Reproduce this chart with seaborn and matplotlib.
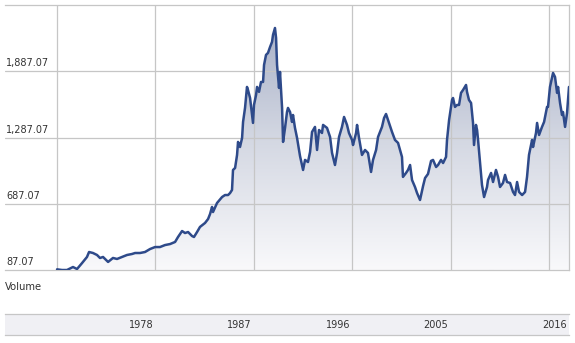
import numpy as np
import pandas as pd
import matplotlib
matplotlib.use("Agg")
import matplotlib.pyplot as plt
import seaborn as sns
from matplotlib.patches import Polygon
from matplotlib.colors import LinearSegmentedColormap

# valores (ano decimal, nivel do indice)
anos = [
    1969.00, 1969.46, 1969.91, 1970.46, 1970.83, 1971.29, 1971.74, 1971.93, 1972.29, 1972.66,
    1972.93, 1973.21, 1973.67, 1974.12, 1974.49, 1974.95, 1975.40, 1975.86, 1976.14, 1976.59,
    1977.05, 1977.51, 1977.97, 1978.42, 1978.88, 1979.34, 1979.80, 1980.07, 1980.44, 1980.71,
    1980.99, 1981.35, 1981.53, 1981.81, 1982.08, 1982.54, 1982.82, 1983.00, 1983.18, 1983.27,
    1983.64, 1984.10, 1984.37, 1984.65, 1984.83, 1985.01, 1985.10, 1985.29, 1985.47, 1985.56,
    1985.74, 1985.93, 1986.02, 1986.20, 1986.38, 1986.47, 1986.66, 1986.84, 1986.93, 1987.02,
    1987.21, 1987.30, 1987.48, 1987.66, 1987.85, 1987.94, 1988.12, 1988.30, 1988.49, 1988.67,
    1988.76, 1988.94, 1989.04, 1989.13, 1989.31, 1989.40, 1989.59, 1989.68, 1989.86, 1990.04,
    1990.13, 1990.32, 1990.50, 1990.59, 1990.77, 1990.96, 1991.23, 1991.51, 1991.69, 1991.96,
    1992.15, 1992.33, 1992.60, 1992.79, 1992.97, 1993.24, 1993.34, 1993.70, 1993.98, 1994.16,
    1994.43, 1994.62, 1994.80, 1995.07, 1995.26, 1995.53, 1995.71, 1995.99, 1996.08, 1996.36,
    1996.45, 1996.63, 1996.90, 1997.18, 1997.45, 1997.73, 1997.91, 1998.19, 1998.37, 1998.73,
    1998.92, 1999.10, 1999.28, 1999.65, 1999.92, 2000.20, 2000.56, 2000.65, 2000.93, 2001.11,
    2001.30, 2001.48, 2001.75, 2001.94, 2002.21, 2002.49, 2002.67, 2002.94, 2003.22, 2003.40,
    2003.68, 2003.86, 2004.13, 2004.32, 2004.59, 2004.68, 2004.87, 2005.14, 2005.23, 2005.41,
    2005.60, 2005.78, 2005.96, 2006.15, 2006.42, 2006.51, 2006.69, 2006.88, 2007.06, 2007.15,
    2007.33, 2007.43, 2007.52, 2007.70, 2007.88, 2008.07, 2008.34, 2008.43, 2008.71, 2008.89,
    2009.16, 2009.35, 2009.53, 2009.80, 2009.99, 2010.17, 2010.45, 2010.72, 2010.90, 2011.09,
    2011.27, 2011.55, 2011.82, 2012.00, 2012.18, 2012.46, 2012.55, 2012.82, 2012.92, 2013.10,
    2013.37, 2013.56, 2013.83, 2013.92, 2014.10, 2014.38, 2014.56, 2014.75, 2014.84, 2015.02,
    2015.20, 2015.29, 2015.48, 2015.66, 2015.84,
]
valores = [
    93, 87, 87, 114, 96, 150, 205, 250, 241, 223,
    196, 205, 160, 196, 187, 205, 223, 232, 241, 241,
    250, 277, 295, 295, 313, 322, 341, 386, 440, 422,
    431, 395, 386, 431, 477, 513, 549, 594, 658, 612,
    694, 748, 766, 766, 784, 812, 993, 1011, 1129, 1247,
    1201, 1283, 1428, 1555, 1745, 1718, 1645, 1491, 1419, 1582,
    1673, 1745, 1700, 1790, 1790, 1944, 2035, 2053, 2107, 2153,
    2216, 2279, 2189, 1944, 1736, 1881, 1555, 1247, 1374, 1518,
    1555, 1518, 1428, 1491, 1374, 1283, 1120, 993, 1084, 1065,
    1156, 1337, 1383, 1174, 1355, 1328, 1401, 1374, 1292, 1147,
    1038, 1147, 1292, 1383, 1473, 1401, 1328, 1265, 1219, 1328,
    1401, 1283, 1129, 1174, 1147, 975, 1084, 1174, 1292, 1383,
    1464, 1500, 1446, 1337, 1265, 1238, 1111, 930, 966, 993,
    1038, 902, 839, 784, 721, 848, 920, 957, 1075, 1084,
    1020, 1038, 1084, 1056, 1111, 1265, 1446, 1627, 1645, 1564,
    1582, 1582, 1691, 1718, 1763, 1700, 1627, 1600, 1419, 1219,
    1401, 1355, 1265, 1056, 857, 748, 839, 902, 966, 884,
    993, 930, 839, 875, 948, 884, 875, 794, 766, 884,
    794, 766, 794, 930, 1129, 1265, 1201, 1328, 1419, 1310,
    1383, 1428, 1564, 1564, 1745, 1872, 1836, 1691, 1745, 1600,
    1491, 1518, 1383, 1509, 1745,
]

niveis_y = [87.07, 687.07, 1287.07, 1887.07]
rotulos_y = ["87.07", "687.07", "1,287.07", "1,887.07"]
anos_grade = [1969, 1978, 1987, 1996, 2005, 2014]
rotulos_x = ["1978", "1987", "1996", "2005", "2016"]

df = pd.DataFrame({"ano": anos, "valor": valores})

sns.set_style("white")
cor_linha = "#2e4a8a"
cor_grade = "#c6c6c6"
cor_texto = "#333333"

W, H = 575, 343
fig = plt.figure(figsize=(W / 100, H / 100), dpi=100)
ax = fig.add_axes([5 / W, 1 - 270 / H, 564 / W, 265 / H])

x_min, x_max = 1964.24, 2015.84
y_min, y_max = 87.07, 2487.07

# grade por cima do preenchimento
for n in niveis_y[1:]:
    ax.axhline(n, color=cor_grade, lw=0.9, zorder=2)
for a in anos_grade:
    ax.axvline(a, color=cor_grade, lw=0.9, zorder=2)

# preenchimento em degrade recortado pela area sob a linha
degrade = np.linspace(0, 1, 256).reshape(-1, 1)
cmap = LinearSegmentedColormap.from_list("deg", ["#f9f9fb", "#d3d7e2", "#a2abc4"])
im = ax.imshow(degrade, extent=[x_min, x_max, y_min, y_max], origin="lower",
               cmap=cmap, aspect="auto", zorder=1)
verts = np.column_stack([[anos[0]] + anos + [anos[-1]], [y_min] + valores + [y_min]])
area = Polygon(verts, closed=True, facecolor="none", edgecolor="none", transform=ax.transData)
ax.add_patch(area)
im.set_clip_path(area)

sns.lineplot(data=df, x="ano", y="valor", ax=ax, color=cor_linha, linewidth=1.8,
             estimator=None, sort=False, zorder=3)

ax.set_xlim(x_min, x_max)
ax.set_ylim(y_min, y_max)
ax.set_xticks([])
ax.set_yticks([])
ax.set_xlabel("")
ax.set_ylabel("")
for lado in ["top", "right", "bottom"]:
    ax.spines[lado].set_color(cor_grade)
    ax.spines[lado].set_linewidth(0.9)
ax.spines["left"].set_visible(False)

# rotulos do eixo y dentro do grafico
for n, r in zip(niveis_y, rotulos_y):
    ax.annotate(r, xy=(0, n), xycoords=ax.get_yaxis_transform(), xytext=(1, 2),
                textcoords="offset points", ha="left", va="bottom",
                fontsize=7, color=cor_texto)

fig.text(5 / W, 1 - 287 / H, "Volume", ha="left", va="center", fontsize=7.2, color=cor_texto)

# faixa inferior com os anos
axb = fig.add_axes([5 / W, 1 - 335 / H, 564 / W, 21 / H])
axb.set_facecolor("#f0f0f4")
axb.set_xlim(x_min, x_max)
axb.set_ylim(0, 1)
axb.set_xticks([])
axb.set_yticks([])
for lado in ["left", "right"]:
    axb.spines[lado].set_visible(False)
for lado in ["top", "bottom"]:
    axb.spines[lado].set_color(cor_grade)
    axb.spines[lado].set_linewidth(0.9)

pos_rotulos = anos_grade[1:5] + [x_max]
for p, r in zip(pos_rotulos, rotulos_x):
    axb.annotate(r, xy=(p, 0.5), xycoords=axb.get_xaxis_transform(), xytext=(-1.5, 0),
                 textcoords="offset points", ha="right", va="center",
                 fontsize=7, color=cor_texto)

fig.savefig("out.png", dpi=100)
